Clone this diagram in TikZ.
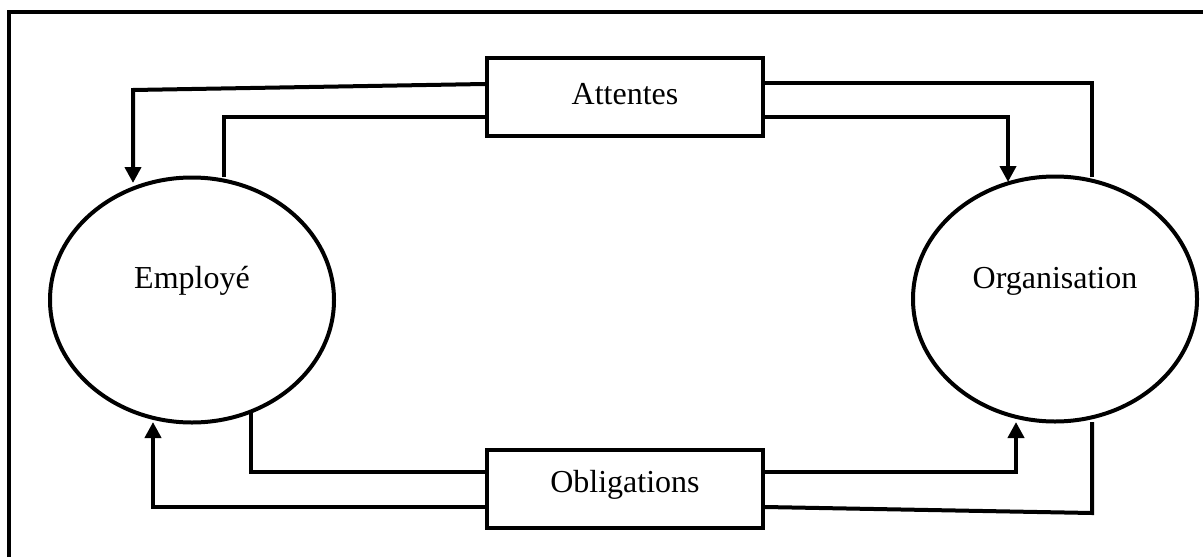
\documentclass[tikz,border=0pt]{standalone}
\usepackage{fontspec}
\setmainfont{Liberation Serif}
\usetikzlibrary{arrows.meta,shapes.geometric}
\begin{document}
\begin{tikzpicture}[x=0.5pt,y=-0.5pt,
  every path/.style={line width=2pt},
  lbl/.style={font=\fontsize{16pt}{19pt}\selectfont, inner sep=0pt},
  party/.style={draw, line width=2pt, ellipse, minimum width=142pt, minimum height=122.5pt, inner sep=0pt},
  termbox/.style={draw, line width=2pt, rectangle, minimum width=138pt, minimum height=39pt, inner sep=0pt},
  conn/.style={line width=2pt, line join=miter},
  arr/.style={conn, -{Triangle[width=8pt,length=8pt]}}]
\useasboundingbox (0,0) rectangle (1203,557);
% frame (only top and left edges visible)
\coordinate (fa) at (8.5,557);
\coordinate (fb) at (8.5,11.5);
\coordinate (fc) at (1203,11.5);
\draw[line width=2pt] (fa) -- (fb) -- (fc);
% nodes
\node[party] (emp) at (192,300) {};
\node[party] (org) at (1055,299) {};
\node[lbl] (empt) at (192,281) {Employé};
\node[lbl] (orgt) at (1055,281) {Organisation};
\node[termbox] (att) at (625,97) {};
\node[lbl] (attt) at (625,94) {Attentes};
\node[termbox] (obl) at (625,488.5) {};
\node[lbl] (oblt) at (625,485) {Obligations};
% free ends on ellipses
\coordinate (e1) at (133,183);
\coordinate (e2) at (224,177);
\coordinate (e3) at (251,412);
\coordinate (e4) at (153,422);
\coordinate (o1) at (1008,182);
\coordinate (o2) at (1092,177);
\coordinate (o3) at (1016,422);
\coordinate (o4) at (1092,422);
% top connectors
\draw[arr] ([yshift=6.5pt]att.west) -- (133,90) -- (e1);
\draw[conn] (e2) -- (224,117) -- ([yshift=-10pt]att.west);
\draw[arr] ([yshift=-10pt]att.east) -- (1008,117) -- (o1);
\draw[conn] (o2) -- (1092,83) -- ([yshift=7pt]att.east);
% bottom connectors
\draw[conn] (e3) -- (251,472) -- ([yshift=8.25pt]obl.west);
\draw[arr] ([yshift=-9.25pt]obl.west) -- (153,507) -- (e4);
\draw[arr] ([yshift=8.25pt]obl.east) -- (1016,472) -- (o3);
\draw[conn] (o4) -- (1092,513) -- ([yshift=-9.25pt]obl.east);
\end{tikzpicture}
\end{document}
